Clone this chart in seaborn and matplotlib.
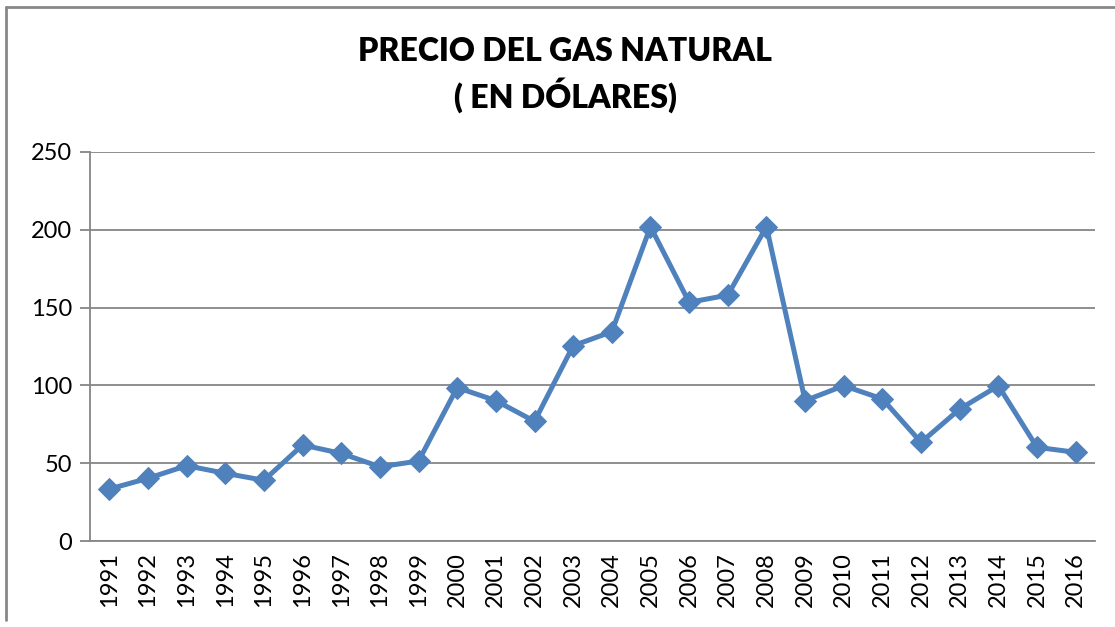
import matplotlib
matplotlib.use("Agg")
import matplotlib.pyplot as plt
import seaborn as sns
import numpy as np
import pandas as pd
from matplotlib.lines import Line2D

# data
years = [str(y) for y in range(1991, 2017)]
precio = [33.4, 40.3, 48.4, 43.5, 39.0, 61.7, 56.3, 47.7, 51.4, 98.6,
          90.2, 76.9, 125.5, 134.5, 202.0, 153.4, 158.0, 202.0, 90.2, 99.8,
          91.3, 63.4, 84.8, 99.8, 60.2, 57.0]
y_ticks = [0, 50, 100, 150, 200, 250]

df = pd.DataFrame({"pos": np.arange(len(years)), "precio": precio})

sns.set_style("white")
plt.rcParams['font.family'] = ['Lato', 'DejaVu Sans']
plt.rcParams['text.color'] = 'black'
plt.rcParams['xtick.color'] = 'black'
plt.rcParams['ytick.color'] = 'black'

fig = plt.figure(figsize=(11.15, 6.27), dpi=100)
ax = fig.add_axes([90 / 1115, 1 - 541 / 627, (1095 - 90) / 1115, (541 - 152) / 627])

grid_col = "#868686"
blue = "#4F81BD"

sns.lineplot(data=df, x="pos", y="precio", ax=ax, color=blue, linewidth=3.6,
             marker="D", markersize=11, markeredgecolor=blue, zorder=3)

ax.set_xlim(-0.5, len(years) - 0.5)
ax.set_ylim(0, 250)
ax.set_yticks(y_ticks)
ax.set_yticklabels([str(v) for v in y_ticks], fontsize=17)
ax.yaxis.grid(True, color=grid_col, linewidth=1.3)
ax.set_axisbelow(True)

# category labels at centers, tick marks between categories
ax.set_xticks(np.arange(len(years)))
ax.set_xticklabels(years, rotation=90, fontsize=17)
ax.set_xticks(np.arange(-0.5, len(years)), minor=True)
ax.tick_params(axis="x", which="major", length=0, pad=8, labelcolor="black")
ax.tick_params(axis="x", which="minor", length=7, width=1.3, color=grid_col)
ax.tick_params(axis="y", length=7, width=1.3, color=grid_col, pad=6, left=True,
               labelcolor="black")
ax.set_xlabel("")
ax.set_ylabel("")

for side in ["top", "right"]:
    ax.spines[side].set_visible(False)
for side in ["left", "bottom"]:
    ax.spines[side].set_color(grid_col)
    ax.spines[side].set_linewidth(1.3)

fig.text(0.507, 1 - 75 / 627, "PRECIO DEL GAS NATURAL\n( EN DÓLARES)",
         ha="center", va="center", fontsize=23, fontweight="heavy",
         color="black", linespacing=1.35)

# outer chart border (left and top edges visible)
fig.add_artist(Line2D([6 / 1115, 6 / 1115], [1 - 620 / 627, 1 - 7 / 627],
                      transform=fig.transFigure, color="#888888", linewidth=2))
fig.add_artist(Line2D([6 / 1115, 1.0], [1 - 7 / 627, 1 - 7 / 627],
                      transform=fig.transFigure, color="#888888", linewidth=2))

fig.savefig("out.png", dpi=100)
